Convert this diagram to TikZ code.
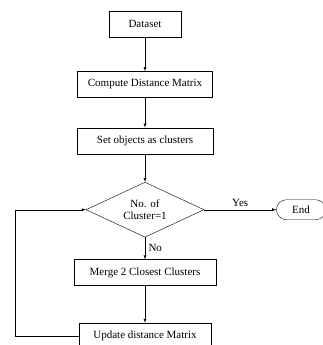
\documentclass[tikz,border=0pt]{standalone}
\usepackage{fontspec}
\setmainfont{Liberation Serif}
\usetikzlibrary{shapes.geometric, shapes.misc, positioning, arrows}
\tikzset{node distance=30pt, % Gap between two boxes. Change if necessary.
box/.style={ % Sets the properties for each process box
draw, thin, minimum height=26pt, inner sep=2pt},
decision/.style={ % Sets the properties for the test
draw, thin, diamond, aspect=2.15, minimum width=118pt, minimum height=55pt,
inner sep=0pt, align=center},
terminal/.style={ % End of the flow
draw, thin, rounded rectangle, minimum width=56pt, minimum height=20pt},
every edge/.style={ % Sets the properties for each connector
draw,->,>=latex, % Makes edges directed with filled arrowheads
auto,thin}}

\begin{document}
\begin{tikzpicture}[font=\fontsize{11}{12.5}\selectfont]
    \useasboundingbox (-145pt,24pt) rectangle (177pt,-321pt);
    \node[box, minimum width=72pt] (data) {Dataset};
    \node[box, minimum width=135pt, below=34pt of data] (dist) {Compute Distance Matrix};
    \node[box, minimum width=136pt, below=of dist] (init) {Set objects as clusters};
    \node[decision, below=28pt of init] (check) {No. of\\Cluster=1};
    \node[terminal, right=72pt of check] (end) {End};
    \node[box, minimum width=142pt, below=22pt of check] (merge) {Merge 2 Closest Clusters};
    \node[box, minimum width=132pt, below=37pt of merge] (update) {Update distance Matrix};
    \draw (data) edge (dist);
    \draw (dist) edge (init);
    \draw (init) edge (check);
    \draw (check) edge node {Yes} (end);
    \draw (check) edge node {No} (merge);
    \draw (merge) edge (update);
    \draw[->,>=latex,thin] (update.west) -- ++(-64pt,0) |- (check.west);
    
    \end{tikzpicture}
\end{document}
